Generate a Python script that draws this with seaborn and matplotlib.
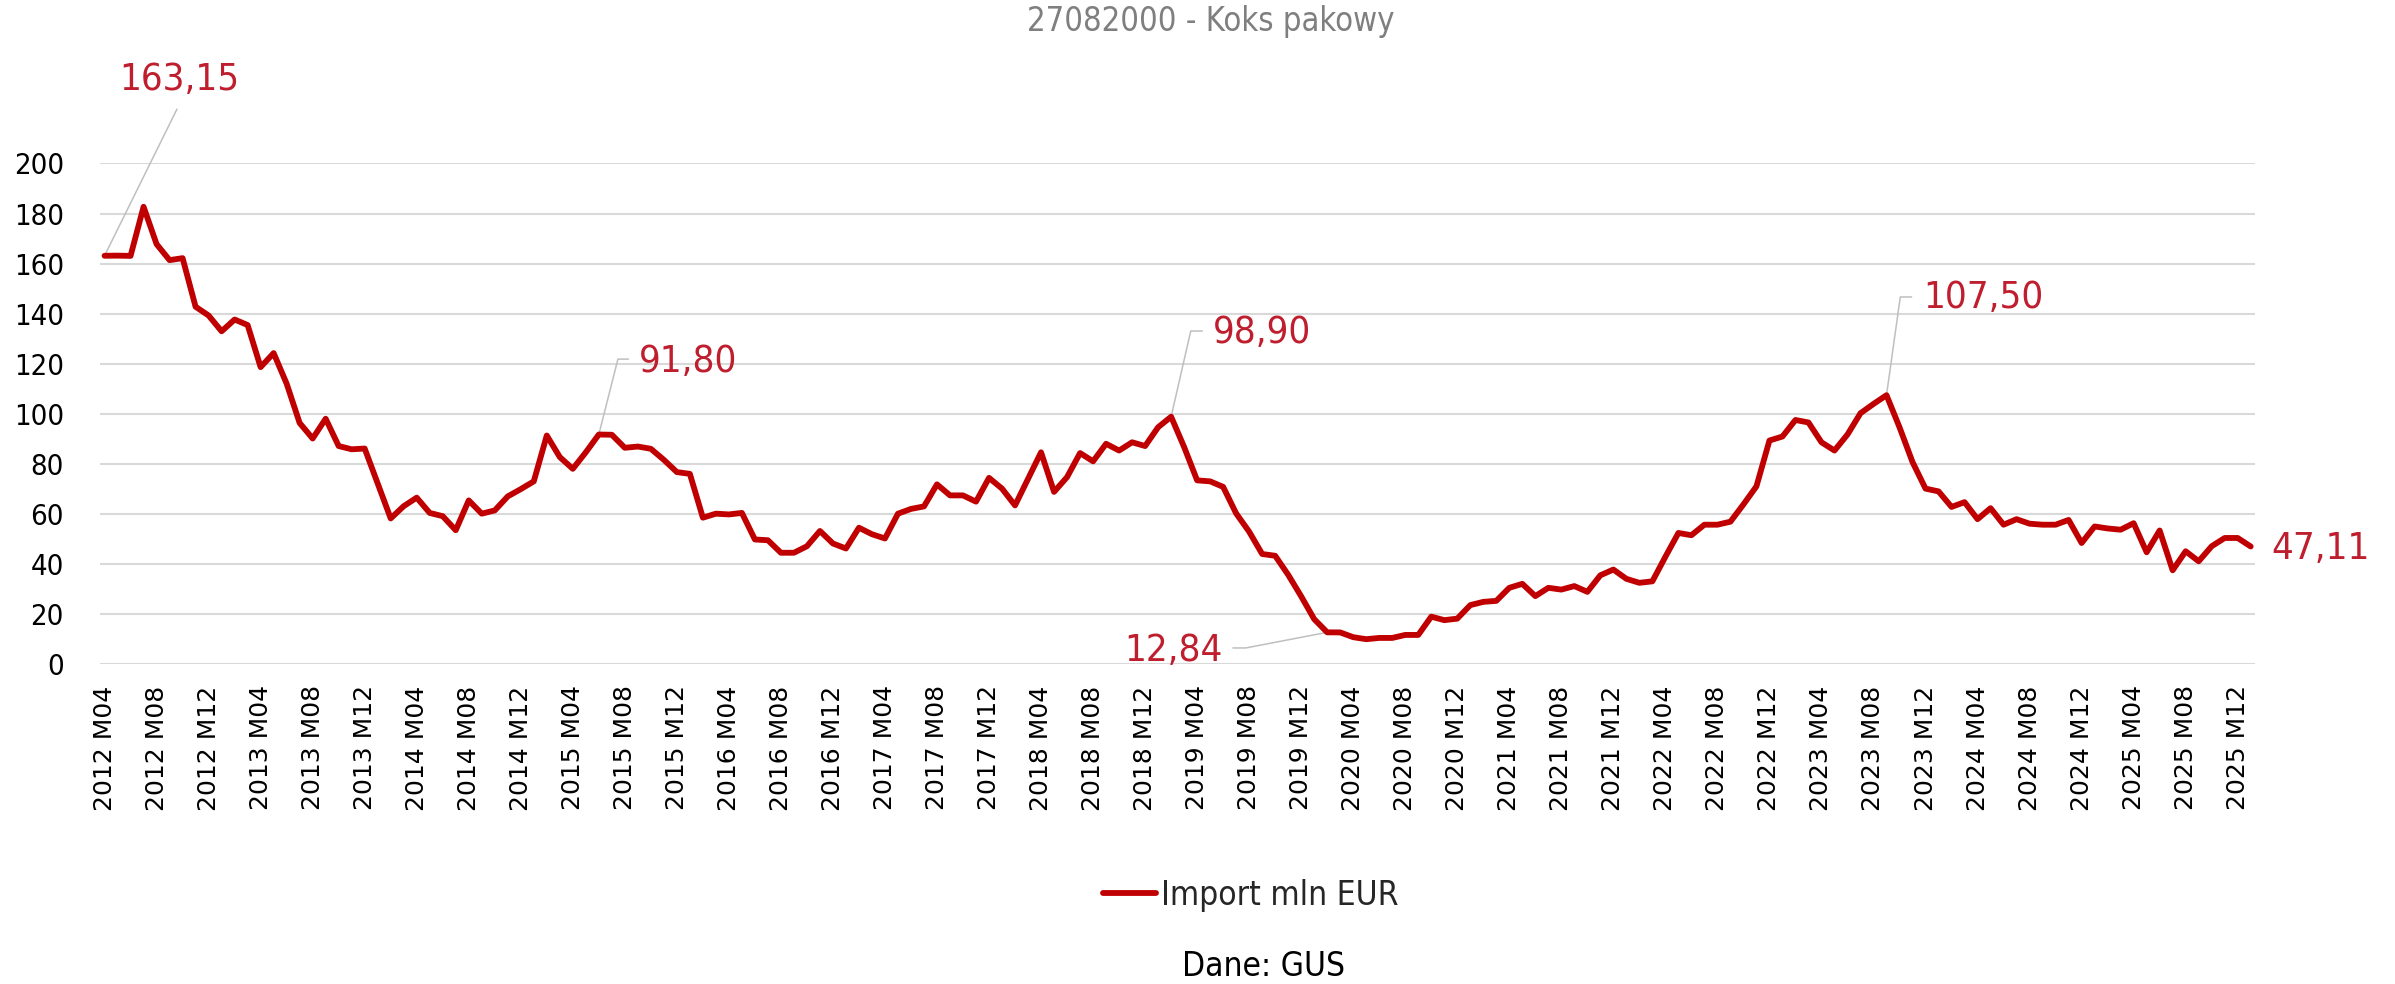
import matplotlib
matplotlib.use("Agg")
import matplotlib.pyplot as plt
import numpy as np
import pandas as pd
import seaborn as sns

# Monthly import of packing coke (CN 27082000), mln EUR, 2012 M04 - 2026 M01
start_year, start_month = 2012, 4
import_mln_eur = [
    163.15, 163.2, 163.1, 182.7, 167.8, 161.4, 162.2, 142.8, 139.3, 133.0,
    137.7, 135.5, 118.7, 124.3, 112.1, 96.4, 90.2, 98.1, 87.2, 85.9,
    86.2, 72.2, 58.3, 63.2, 66.6,
    60.5, 59.2, 53.6, 65.5, 60.2, 61.5, 67.1, 70.0, 73.1, 91.4,
    82.8, 78.1, 84.7, 91.8, 91.7, 86.5, 87.0, 86.1, 81.7, 76.8,
    76.1, 58.6, 60.2, 59.9,
    60.5, 49.9, 49.6, 44.6, 44.6, 47.2, 53.3, 48.3, 46.3, 54.6,
    52.0, 50.3, 60.2, 62.1, 63.1, 71.9, 67.5, 67.5, 65.0, 74.5,
    70.2, 63.5, 74.1, 84.7,
    68.9, 74.8, 84.4, 81.1, 88.1, 85.4, 88.7, 87.2, 94.7, 98.9,
    86.8, 73.5, 73.1, 70.9, 60.3, 53.0, 44.1, 43.4, 35.8, 27.2,
    18.1, 12.84, 12.8, 10.9,
    10.1, 10.6, 10.6, 11.8, 11.8, 19.1, 17.7, 18.3, 23.7, 25.0,
    25.4, 30.6, 32.2, 27.3, 30.6, 29.9, 31.3, 29.0, 35.6, 37.9,
    34.2, 32.6, 33.2,
    43.0, 52.5, 51.6, 55.8, 55.8, 57.0, 63.9, 71.1, 89.4, 91.0,
    97.6, 96.6, 88.7, 85.4, 91.8, 100.3, 104.0, 107.5, 94.7, 80.8,
    70.2, 69.1, 62.9, 64.8,
    58.0, 62.4, 55.8, 58.0, 56.2, 55.8, 55.8, 57.7, 48.5, 55.1,
    54.3, 53.8, 56.4, 44.8, 53.5, 37.6, 45.2, 41.2, 47.2, 50.5,
    50.5, 47.11,
]

periods = []
y, m = start_year, start_month
for _ in import_mln_eur:
    periods.append(f"{y} M{m:02d}")
    m += 1
    if m > 12:
        m, y = 1, y + 1

# Points carrying a value label
labelled_points = [0, 38, 82, 94, 137, len(import_mln_eur) - 1]

series_name = "Import mln EUR"
title_text = "27082000 - Koks pakowy"
source_text = "Dane: GUS"

LINE = "#C00000"
LABEL = "#BE1E2D"
GRID = "#D9D9D9"
LEADER = "#BFBFBF"

sns.set_theme(style="white")
plt.rcParams["font.family"] = ["DejaVu Sans"]
plt.rcParams["font.stretch"] = "condensed"
COND = dict(family="DejaVu Sans", stretch="condensed")

df = pd.DataFrame({"pos": np.arange(len(import_mln_eur)),
                   "period": periods,
                   series_name: import_mln_eur})

fig = plt.figure(figsize=(23.95, 9.84), dpi=100)
ax = fig.add_axes([0.04175, 0.3247, 0.8999, 0.5092])

sns.lineplot(data=df, x="pos", y=series_name, ax=ax, color=LINE,
             linewidth=4.2, legend=False, solid_joinstyle="round",
             solid_capstyle="round", clip_on=False)

n = len(import_mln_eur)
ax.set_xlim(-0.35, n - 1 + 0.35)
ax.set_ylim(0, 200)
ax.set_yticks(np.arange(0, 201, 20))
ax.yaxis.grid(True, color=GRID, linewidth=1.5)
ax.xaxis.grid(False)
for s in ax.spines.values():
    s.set_visible(False)

tick_pos = np.arange(0, n, 4)
ax.set_xticks(tick_pos)
ax.set_xticklabels([periods[i] for i in tick_pos], rotation=90,
                   family="DejaVu Sans", stretch="normal", fontsize=18,
                   color="black")
ax.tick_params(axis="x", length=0, pad=15)
ax.tick_params(axis="y", length=0, pad=26)
for t in ax.get_yticklabels():
    t.set_fontproperties(matplotlib.font_manager.FontProperties(size=21, **COND))
    t.set_color("black")
ax.set_xlabel("")
ax.set_ylabel("")


def fmt(v):
    return f"{v:.2f}".replace(".", ",")


# label text anchor (x, y, ha) and leader polyline for each labelled point
label_layout = {
    0: ((1.12, 233.3, "left"), [(5.57, 221.7)]),
    38: ((41.08, 120.7, "left"), [(40.28, 121.9), (39.47, 121.9)]),
    82: ((85.2, 132.3, "left"), [(84.4, 133.1), (83.51, 133.1)]),
    94: ((85.98, 5.4, "right"), [(86.75, 6.6), (87.74, 6.6)]),
    137: ((139.8, 146.3, "left"), [(138.93, 146.7), (138.06, 146.7)]),
    n - 1: ((166.58, 46.1, "left"), []),
}
for i in labelled_points:
    v = import_mln_eur[i]
    (tx, ty, ha), leader = label_layout[i]
    if leader:
        xs = [p[0] for p in leader] + [i]
        ys = [p[1] for p in leader] + [v]
        ax.plot(xs, ys, color=LEADER, linewidth=1.1, clip_on=False, zorder=1)
    ax.text(tx, ty, fmt(v), ha=ha, va="center", fontsize=27.5, color=LABEL,
            clip_on=False, **COND)

fig.text(1211 / 2395, 1 - 21 / 984, title_text, ha="center", va="center",
         fontsize=23.5, color="#7F7F7F", **COND)

handle = plt.Line2D([], [], color=LINE, linewidth=4.2)
fig.legend([handle], [series_name], loc="center",
           bbox_to_anchor=(1251 / 2395, 1 - 895 / 984), frameon=False,
           prop=matplotlib.font_manager.FontProperties(size=24, **COND),
           handlelength=1.6, handletextpad=0.15)

fig.text(1263 / 2395, 1 - 966 / 984, source_text, ha="center", va="center",
         fontsize=24, color="black", **COND)

fig.savefig("out.png", dpi=100)
